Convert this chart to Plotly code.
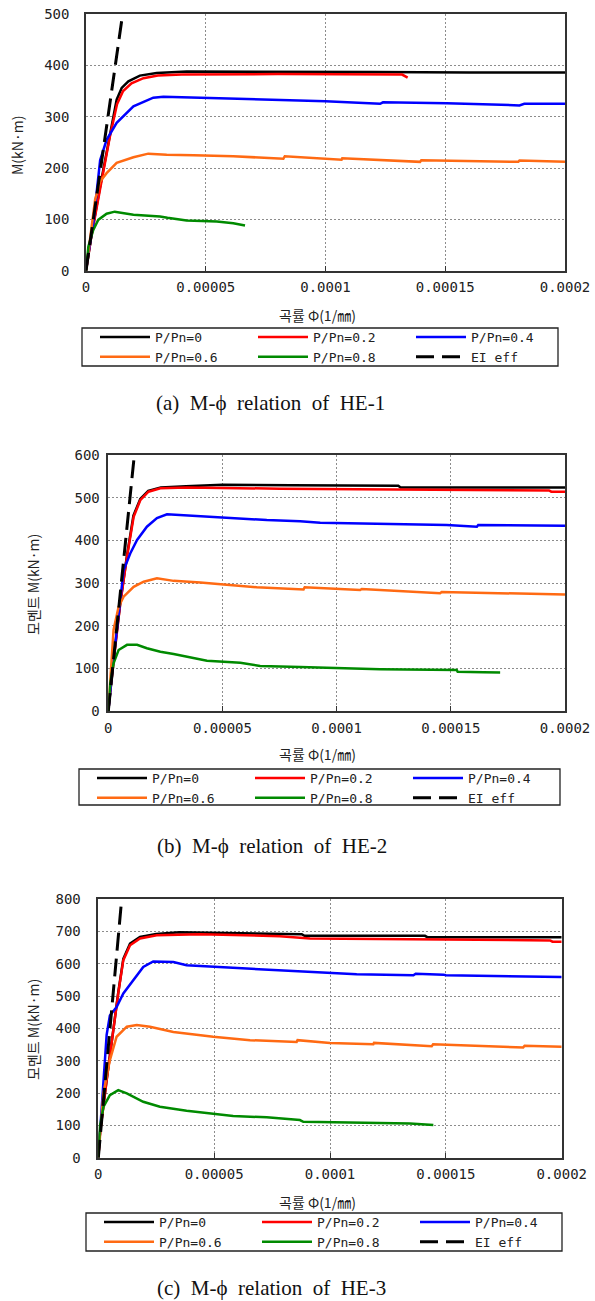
import plotly.graph_objects as go

W, H = 595, 1301

# ---------------- data ----------------
series_names = ["P/Pn=0", "P/Pn=0.2", "P/Pn=0.4", "P/Pn=0.6", "P/Pn=0.8"]
series_colors = ["#000000", "#ff0000", "#0000ff", "#ff6a13", "#008a00"]
x_tickvals = [0, 0.00005, 0.0001, 0.00015, 0.0002]
x_ticktext = ["0", "0.00005", "0.0001", "0.00015", "0.0002"]

# Panel (a) HE-1
a_x0 = [0, 2.4e-6, 5.9e-6, 1.0e-5, 1.28e-5, 1.49e-5, 1.77e-5, 2.25e-5, 2.95e-5, 4.2e-5, 8e-5, 1.2e-4, 1.6e-4, 2e-4]
a_m0 = [0, 73, 164, 268, 333, 356, 369, 380, 385, 388, 388, 387, 386, 386]
a_x2 = [0, 2e-6, 6e-6, 1.0e-5, 1.3e-5, 1.55e-5, 1.9e-5, 2.4e-5, 3e-5, 4e-5, 8e-5, 1.2e-4, 1.32e-4, 1.343e-4]
a_m2 = [0, 60, 162, 262, 325, 350, 365, 375, 380, 382, 383, 383, 382, 376]
a_x4 = [0, 1e-6, 3e-6, 5.9e-6, 8.6e-6, 1.28e-5, 1.98e-5, 2.81e-5, 3.23e-5, 4.0e-5, 5.04e-5, 8.1e-5, 1.0e-4, 1.228e-4, 1.24e-4, 1.506e-4, 1.81e-4, 1.83e-4, 2e-4]
a_m4 = [0, 34, 90, 215, 255, 288, 320, 337, 339, 338, 337, 333, 330, 325, 328, 326, 322, 325, 325]
a_x6 = [0, 1.5e-6, 3e-6, 3.8e-6, 5.9e-6, 8.6e-6, 1.28e-5, 1.98e-5, 2.6e-5, 3.37e-5, 4.5e-5, 6.15e-5, 8.24e-5, 8.3e-5, 1.067e-4, 1.07e-4, 1.395e-4, 1.4e-4, 1.805e-4, 1.81e-4, 2e-4]
a_m6 = [0, 55, 110, 138, 174, 190, 210, 221, 228, 226, 225, 223, 218, 223, 216, 219, 212, 215, 212, 214.5, 212]
a_x8 = [0, 1e-6, 3e-6, 5.1e-6, 8.6e-6, 1.2e-5, 1.98e-5, 3.09e-5, 3.4e-5, 4.2e-5, 5.46e-5, 6.15e-5, 6.64e-5]
a_m8 = [0, 47, 79, 99, 111, 115, 109, 105.5, 103, 97.6, 95.7, 92.6, 88]
a_xei = [0, 1.53e-5]
a_mei = [0, 500]

# Panel (b) HE-2
b_x0 = [0, 1e-6, 3e-6, 5.2e-6, 8.2e-6, 1.1e-5, 1.4e-5, 1.75e-5, 2.3e-5, 3.4e-5, 5e-5, 8e-5, 1.27e-4, 1.28e-4, 2e-4]
b_m0 = [0, 55, 152, 252, 365, 458, 497, 516, 524, 527, 530, 529, 528, 524, 524]
b_x2 = [0, 8.8e-7, 3.06e-6, 5.25e-6, 8.2e-6, 1.11e-5, 1.4e-5, 1.76e-5, 2.28e-5, 3.44e-5, 7.5e-5, 1.3e-4, 1.93e-4, 1.94e-4, 2e-4]
b_m2 = [0, 49, 151, 252, 362, 455, 494, 514, 522, 524, 521, 519, 517, 514, 514]
b_x4 = [0, 2e-6, 4e-6, 5.5e-6, 6.7e-6, 9.6e-6, 1.26e-5, 1.69e-5, 2.13e-5, 2.57e-5, 3.15e-5, 4.03e-5, 5.48e-5, 6.94e-5, 8.4e-5, 9.28e-5, 1.482e-4, 1.614e-4, 1.62e-4, 2e-4]
b_m4 = [0, 110, 200, 270, 330, 369, 401, 432, 452, 461, 459, 457, 451.5, 447.6, 445, 441, 436, 432, 436, 434]
b_x6 = [0, 1e-6, 2.3e-6, 4.5e-6, 6.7e-6, 1.11e-5, 1.55e-5, 2.13e-5, 2.86e-5, 4.03e-5, 5.48e-5, 6.5e-5, 8.55e-5, 8.6e-5, 1.103e-4, 1.11e-4, 1.453e-4, 1.46e-4, 2e-4]
b_m6 = [0, 90, 190, 244, 268, 291, 303, 311, 305, 301, 295, 290, 285, 290, 283.6, 286, 276, 279, 273]
b_x8 = [0, 8.8e-7, 2.3e-6, 4.5e-6, 8.2e-6, 1.26e-5, 1.69e-5, 2.28e-5, 2.86e-5, 3.73e-5, 4.32e-5, 5.78e-5, 6.65e-5, 8.4e-5, 1.19e-4, 1.526e-4, 1.53e-4, 1.643e-4, 1.716e-4]
b_m8 = [0, 65, 112, 143, 155, 155, 147, 139, 133.6, 123.5, 118, 113, 105.5, 103, 97.7, 96, 92, 90.6, 90]
b_xei = [0, 1.14e-5]
b_mei = [0, 600]

# Panel (c) HE-3
c_x0 = [0, 7e-7, 3.6e-6, 6.5e-6, 8.6e-6, 1.08e-5, 1.37e-5, 1.8e-5, 2.5e-5, 3.5e-5, 5.0e-5, 8.78e-5, 8.9e-5, 1.41e-4, 1.42e-4, 2e-4]
c_m0 = [0, 75, 240, 405, 510, 615, 662, 683, 692, 697, 695, 691, 686, 686, 682, 682]
c_x2 = [0, 7.3e-7, 3.6e-6, 6.5e-6, 8.6e-6, 1.08e-5, 1.37e-5, 1.8e-5, 2.52e-5, 4.39e-5, 7.84e-5, 9.14e-5, 1.504e-4, 1.95e-4, 1.96e-4, 2e-4]
c_m2 = [0, 75, 240, 405, 508, 611, 657, 678, 688, 691, 685, 678, 674.5, 672, 668, 668]
c_x4 = [0, 1e-6, 2.5e-6, 3.6e-6, 5e-6, 7.9e-6, 1.08e-5, 1.51e-5, 1.94e-5, 2.37e-5, 3.24e-5, 3.81e-5, 5.11e-5, 6.55e-5, 7.84e-5, 9.28e-5, 1.115e-4, 1.36e-4, 1.37e-4, 1.49e-4, 1.5e-4, 2e-4]
c_m4 = [0, 100, 270, 380, 440, 466, 508, 549, 590, 607, 605, 595, 590, 585, 580, 574.5, 567, 564, 569, 566, 564, 559]
c_x6 = [0, 1e-6, 2.2e-6, 5e-6, 7.9e-6, 1.23e-5, 1.66e-5, 2.23e-5, 3.24e-5, 4.96e-5, 6.55e-5, 8.56e-5, 8.6e-5, 1.0e-4, 1.187e-4, 1.19e-4, 1.439e-4, 1.445e-4, 1.834e-4, 1.84e-4, 2e-4]
c_m6 = [0, 100, 199, 302, 374, 405, 410, 405, 389, 374, 363.5, 358, 363.5, 355, 351, 355, 345, 351, 341, 346, 343]
c_x8 = [0, 7e-7, 2.2e-6, 5e-6, 8.6e-6, 1.23e-5, 1.94e-5, 2.66e-5, 3.81e-5, 4.96e-5, 5.82e-5, 7.27e-5, 8.7e-5, 8.85e-5, 1.345e-4, 1.446e-4]
c_m8 = [0, 96, 157, 193.6, 209, 199, 173, 157.5, 145, 137, 129, 124.8, 116.4, 111, 106, 101]
c_xei = [0, 1.01e-5]
c_mei = [0, 800]

panels = [
    dict(xs=[a_x0, a_x2, a_x4, a_x6, a_x8], ms=[a_m0, a_m2, a_m4, a_m6, a_m8], xei=a_xei, mei=a_mei, ymax=500),
    dict(xs=[b_x0, b_x2, b_x4, b_x6, b_x8], ms=[b_m0, b_m2, b_m4, b_m6, b_m8], xei=b_xei, mei=b_mei, ymax=600),
    dict(xs=[c_x0, c_x2, c_x4, c_x6, c_x8], ms=[c_m0, c_m2, c_m4, c_m6, c_m8], xei=c_xei, mei=c_mei, ymax=800),
]

# ---------------- layout geometry (pixels) ----------------
plot_boxes = [(86, 565, 14, 270.7), (108.3, 565, 455, 711), (98.3, 561.7, 899, 1157.7)]
ylabel_standoff = [12, 4, 13]
legend_boxes = [(82, 558, 328, 366), (79, 560, 769, 805), (86, 562, 1213, 1251)]
legend_line_start = [100, 97, 104]
ytitles = ["M(kN·m)", "모멘트 M(kN·m)", "모멘트 M(kN·m)"]
ytitle_pos = [(17, 145), (33, 585), (33, 1030)]
xtitle_pos = [(317, 315), (317, 754), (317, 1202)]
captions = ["(a)  M-ϕ  relation  of  HE-1", "(b)  M-ϕ  relation  of  HE-2", "(c)  M-ϕ  relation  of  HE-3"]
caption_pos = [(270, 403), (272, 846), (271, 1288)]

def px(x):
    return x / W

def py(y):
    return 1 - y / H

fig = go.Figure()
TICKFONT = dict(family="DejaVu Sans Mono", size=14, color="#222")

for i, p in enumerate(panels):
    sfx = "" if i == 0 else str(i + 1)
    leg = "legend" + sfx
    for k in range(5):
        fig.add_trace(go.Scatter(
            x=p["xs"][k], y=p["ms"][k], mode="lines", name=series_names[k],
            line=dict(color=series_colors[k], width=2.5),
            xaxis="x" + sfx, yaxis="y" + sfx, legend=leg, legendrank=k + 1,
            hoverinfo="skip"))
    fig.add_trace(go.Scatter(
        x=p["xei"], y=p["mei"], mode="lines", name="EI eff",
        line=dict(color="#000000", width=3, dash="18px,8px"),
        xaxis="x" + sfx, yaxis="y" + sfx, legend=leg, legendrank=6,
        hoverinfo="skip"))

    l, r, t, b = plot_boxes[i]
    xa = dict(domain=[px(l), px(r)], range=[0, 0.0002], tickvals=x_tickvals, ticktext=x_ticktext,
              showgrid=True, gridcolor="#8c8c8c", griddash="2px,2px", gridwidth=1,
              showline=True, linecolor="#333", linewidth=1.5, mirror=True,
              ticks="inside", ticklen=5, tickcolor="#333", zeroline=False,
              tickfont=TICKFONT, ticklabelstandoff=3, anchor="y" + sfx, fixedrange=True,
              automargin=False)
    ya = dict(domain=[py(b), py(t)], range=[0, p["ymax"]], dtick=100, tick0=0,
              showgrid=True, gridcolor="#8c8c8c", griddash="2px,2px", gridwidth=1,
              showline=True, linecolor="#333", linewidth=1.5, mirror=True,
              ticks="", zeroline=False, tickfont=TICKFONT,
              ticklabelstandoff=ylabel_standoff[i], anchor="x" + sfx, fixedrange=True,
              automargin=False)
    fig.update_layout(**{"xaxis" + sfx: xa, "yaxis" + sfx: ya})

    # legend frame
    bl, br, bt, bb = legend_boxes[i]
    fig.add_shape(type="rect", xref="paper", yref="paper",
                  x0=px(bl), x1=px(br), y0=py(bb), y1=py(bt),
                  line=dict(color="#222", width=1.3), fillcolor="rgba(0,0,0,0)", layer="above")
    fig.update_layout(**{leg: dict(
        x=px(legend_line_start[i] - 5), y=py(bt - 6), xanchor="left", yanchor="top", orientation="h",
        borderwidth=0, bgcolor="rgba(0,0,0,0)",
        font=dict(family="DejaVu Sans Mono", size=13, color="#222"),
        itemwidth=50, entrywidth=93, entrywidthmode="pixels",
        traceorder="normal", tracegroupgap=0)})

    yx, yy = ytitle_pos[i]
    fig.add_annotation(x=px(yx), y=py(yy), xref="paper", yref="paper", text=ytitles[i],
                       textangle=-90, showarrow=False, xanchor="center", yanchor="middle",
                       font=dict(family="Noto Sans CJK KR", size=14, color="#222"))
    tx, ty = xtitle_pos[i]
    fig.add_annotation(x=px(tx), y=py(ty), xref="paper", yref="paper", text="곡률 Φ(1/㎜)",
                       showarrow=False, xanchor="center", yanchor="middle",
                       font=dict(family="Noto Sans CJK KR", size=14, color="#222"))
    cx, cy = caption_pos[i]
    fig.add_annotation(x=px(cx), y=py(cy), xref="paper", yref="paper", text=captions[i],
                       showarrow=False, xanchor="center", yanchor="middle", borderpad=0,
                       font=dict(family="Liberation Serif", size=21, color="#111"))

fig.update_layout(width=W, height=H, margin=dict(l=0, r=0, t=0, b=0, autoexpand=False),
                  paper_bgcolor="white", plot_bgcolor="white", showlegend=True)

fig.write_html("out.html", config={"displayModeBar": False})
